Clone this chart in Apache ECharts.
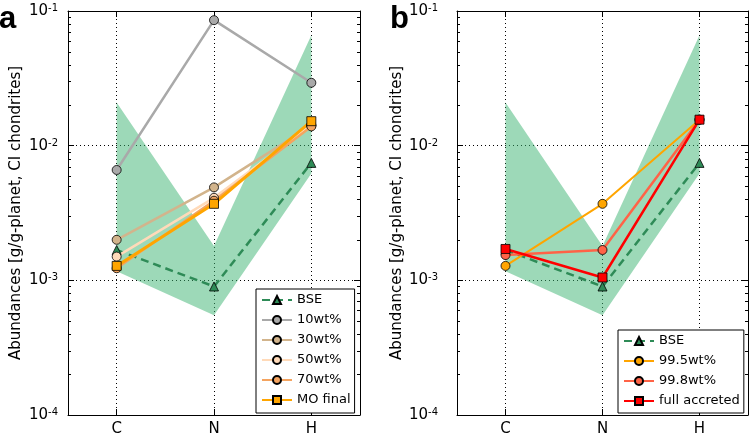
<!DOCTYPE html>
<html>
<head>
<meta charset="utf-8">
<script src="https://cdn.jsdelivr.net/npm/echarts@6/dist/echarts.min.js"></script>
<style>
html,body{margin:0;padding:0;background:#fff;}
#chart{width:751px;height:437px;}
</style>
</head>
<body>
<div id="chart"></div>
<script>
// ---------- data ----------
const categories = ['C', 'N', 'H'];
const yTickValues = [1e-4, 1e-3, 1e-2, 1e-1];
const bseRangeLow  = [0.00117, 0.00055, 0.0062];
const bseRangeHigh = [0.0209, 0.0018, 0.066];
const bse      = [0.00168, 0.00090, 0.00745];
const wt10     = [0.0066, 0.0855, 0.0293];
const wt30     = [0.0020, 0.0049, 0.0141];
const wt50     = [0.0015, 0.0041, 0.0142];
const wt70     = [0.00123, 0.0039, 0.0139];
const moFinal  = [0.00128, 0.0037, 0.0152];
const wt995    = [0.00128, 0.0037, 0.0156];
const wt998    = [0.00154, 0.00168, 0.0156];
const fullAccreted = [0.00171, 0.00105, 0.0156];

// minor ticks of the log axis (2..9 x 10^k)
const minorTicks = [];
for (let k = -4; k <= -2; k++) for (let m = 2; m <= 9; m++) minorTicks.push(m * Math.pow(10, k));

const FONT = '"DejaVu Sans", sans-serif';
const pts = arr => arr.map((v, i) => [i, v]);

const grids = [
  { left: 68, top: 11, width: 292, height: 408 },
  { left: 457, top: 11, width: 292, height: 408 }
];

function yLabel(v) {
  const e = Math.round(Math.log10(v));
  return '{m|10}{s|' + e + '}';
}

function makeAxes(gi, labelMargin, nameGap) {
  const dotted = { show: true, lineStyle: { color: '#000', width: 1, type: [1, 3] } };
  const axLine = { show: true, onZero: false, lineStyle: { color: '#000', width: 1 } };
  const tick = { show: true, inside: true, length: 6, lineStyle: { color: '#000' } };
  const xBottom = {
    type: 'value', gridIndex: gi, min: -0.5, max: 2.5, splitNumber: 3, minInterval: 1, maxInterval: 1,
    axisLine: axLine, axisTick: tick,
    axisLabel: {
      margin: 7, color: '#000', fontSize: 15, fontFamily: FONT,
      formatter: v => (Number.isInteger(v) && categories[v] !== undefined) ? categories[v] : ''
    },
    splitLine: dotted
  };
  const xTop = {
    type: 'value', gridIndex: gi, position: 'top', min: -0.5, max: 2.5, splitNumber: 3, minInterval: 1, maxInterval: 1,
    axisLine: axLine, axisTick: tick,
    axisLabel: { show: false }, splitLine: { show: false }
  };
  const yLeft = {
    type: 'log', logBase: 10, gridIndex: gi, position: 'left', min: yTickValues[0], max: yTickValues[yTickValues.length - 1],
    name: 'Abundances [g/g-planet, CI chondrites]', nameLocation: 'middle', nameGap: nameGap,
    nameTextStyle: { color: '#000', fontSize: 15, fontFamily: FONT },
    axisLine: axLine, axisTick: tick,
    axisLabel: {
      margin: labelMargin, color: '#000', fontFamily: FONT, formatter: yLabel,
      rich: {
        m: { fontSize: 15, fontFamily: FONT, color: '#000', lineHeight: 15, padding: [3, 0, 0, 0], verticalAlign: 'bottom' },
        s: { fontSize: 10, fontFamily: FONT, color: '#000', lineHeight: 10, verticalAlign: 'top' }
      }
    },
    splitLine: dotted
  };
  const yRight = {
    type: 'log', logBase: 10, gridIndex: gi, position: 'right', min: yTickValues[0], max: yTickValues[yTickValues.length - 1],
    axisLine: axLine, axisTick: tick,
    axisLabel: { show: false }, splitLine: { show: false }
  };
  return { x: [xBottom, xTop], y: [yLeft, yRight] };
}

const axA = makeAxes(0, 10, 44);
const axB = makeAxes(1, 19, 48);

function fillSeries(ai) {
  return {
    type: 'custom', xAxisIndex: ai, yAxisIndex: ai, silent: true, z: 1,
    data: [[0, bseRangeLow[0]]],
    renderItem: function (params, api) {
      const points = [];
      for (let i = 0; i < categories.length; i++) points.push(api.coord([i, bseRangeHigh[i]]));
      for (let i = categories.length - 1; i >= 0; i--) points.push(api.coord([i, bseRangeLow[i]]));
      return { type: 'polygon', shape: { points: points }, style: { fill: 'rgba(60,179,113,0.5)', stroke: null } };
    }
  };
}

function minorTickSeries(ai) {
  return {
    type: 'custom', xAxisIndex: ai, yAxisIndex: ai, silent: true, z: 5,
    data: minorTicks.map(v => [0, v]),
    renderItem: function (params, api) {
      const y = Math.round(api.coord([0, api.value(1)])[1]) + 0.5;
      const cs = params.coordSys;
      return {
        type: 'group', children: [
          { type: 'line', shape: { x1: cs.x, y1: y, x2: cs.x + 3, y2: y }, style: { stroke: '#000', lineWidth: 1 } },
          { type: 'line', shape: { x1: cs.x + cs.width - 3, y1: y, x2: cs.x + cs.width, y2: y }, style: { stroke: '#000', lineWidth: 1 } }
        ]
      };
    }
  };
}

function lineSeries(ai, name, values, color, symbol, size, width, dashed) {
  return {
    type: 'line', name: name, xAxisIndex: ai, yAxisIndex: ai, z: 3,
    data: pts(values), symbol: symbol, symbolSize: size, showSymbol: true,
    lineStyle: { color: color, width: width, type: dashed ? [8, 5] : 'solid' },
    itemStyle: { color: color, borderColor: '#000', borderWidth: 0.8 },
    emphasis: { disabled: true }
  };
}

const series = [
  fillSeries(0),
  lineSeries(0, 'BSE', bse, '#2e8b57', 'triangle', 9, 2.5, true),
  lineSeries(0, '10wt%', wt10, '#a9a9a9', 'circle', 9, 2.5, false),
  lineSeries(0, '30wt%', wt30, '#d2b48c', 'circle', 9, 2.5, false),
  lineSeries(0, '50wt%', wt50, '#ffdab9', 'circle', 9, 2.5, false),
  lineSeries(0, '70wt%', wt70, '#f4a460', 'circle', 9, 2.5, false),
  lineSeries(0, 'MO final', moFinal, '#ffa500', 'rect', 9, 3, false),
  minorTickSeries(0),
  fillSeries(2),
  lineSeries(2, 'BSE', bse, '#2e8b57', 'triangle', 9, 2.5, true),
  lineSeries(2, '99.5wt%', wt995, '#ffa500', 'circle', 9, 2, false),
  lineSeries(2, '99.8wt%', wt998, '#ff6347', 'circle', 9, 2.5, false),
  lineSeries(2, 'full accreted', fullAccreted, '#ff0000', 'rect', 9, 2.5, false),
  minorTickSeries(2)
];

const legendCommon = {
  orient: 'vertical', itemWidth: 30, itemHeight: 10, itemGap: 6,
  backgroundColor: '#fff', borderColor: '#000', borderWidth: 1, borderRadius: 0,
  selectedMode: false,
  textStyle: { color: '#000', fontSize: 13, fontFamily: FONT, lineHeight: 14 }
};

const option = {
  animation: false,
  backgroundColor: '#fff',
  grid: grids.map(g => Object.assign({ containLabel: false }, g)),
  xAxis: [axA.x[0], axA.x[1], axB.x[0], axB.x[1]],
  yAxis: [axA.y[0], axA.y[1], axB.y[0], axB.y[1]],
  legend: [
    Object.assign({}, legendCommon, { left: 256, top: 289, padding: [4, 4, 6, 5],
      data: ['BSE', '10wt%', '30wt%', '50wt%', '70wt%', 'MO final'] }),
    Object.assign({}, legendCommon, { left: 618, top: 330, padding: [4, 4, 5, 5],
      data: ['BSE', '99.5wt%', '99.8wt%', 'full accreted'] })
  ],
  graphic: [
    { type: 'text', left: -1, top: 4, style: { text: 'a', font: 'bold 31px "Liberation Sans", sans-serif', fill: '#000' } },
    { type: 'text', left: 390, top: 4, style: { text: 'b', font: 'bold 31px "Liberation Sans", sans-serif', fill: '#000' } }
  ],
  series: series
};

const chart = echarts.init(document.getElementById('chart'), null, { renderer: 'canvas' });
chart.setOption(option);
</script>
</body>
</html>
